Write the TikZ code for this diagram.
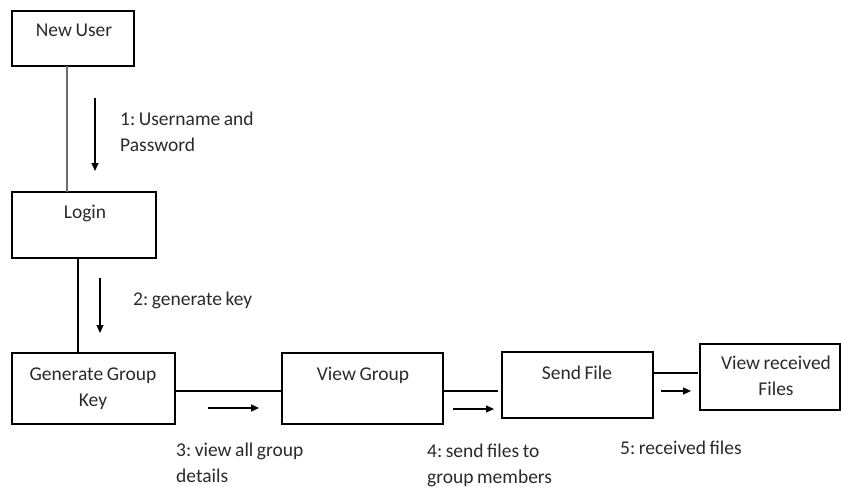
\documentclass[tikz,border=0pt]{standalone}
\usepackage{fontspec}
\setmainfont[WordSpace=0.8]{Carlito}
\frenchspacing
\usetikzlibrary{arrows.meta}
\definecolor{txt}{HTML}{2A2A2A}
\tikzset{
  box/.style={draw=black, line width=1.4pt, inner sep=0pt},
  lbl/.style={inner sep=0pt, text=txt, font=\fontsize{19.5}{25.5}\selectfont, align=left},
  btxt/.style={inner sep=0pt, text=txt, font=\fontsize{19.5}{25.5}\selectfont, align=center},
  conn/.style={draw=black, line width=1.3pt},
  msg/.style={draw=black, line width=1.1pt, -{Triangle[length=8pt,width=7pt]}},
}
\begin{document}
\begin{tikzpicture}[x=1pt,y=-1pt]
\useasboundingbox (0,0) rectangle (841,487);
% boxes
\node[box, minimum width=122pt, minimum height=55pt] (nu) at (73,38.5) {};
\node[box, minimum width=144pt, minimum height=66pt] (login) at (84,225) {};
\node[box, minimum width=163pt, minimum height=71pt] (ggk) at (93.5,388.5) {};
\node[box, minimum width=161pt, minimum height=71pt] (vg) at (362.5,388.5) {};
\node[box, minimum width=151pt, minimum height=66pt] (sf) at (577.5,385) {};
\node[box, minimum width=140pt, minimum height=66pt] (vrf) at (770,377) {};
% box texts
\node[btxt, anchor=base] (tnu) at (74,37) {New User};
\node[btxt, anchor=base] (tlogin) at (85,218) {Login};
\node[btxt, anchor=base] (tggk) at (93,406) {Generate Group\\Key};
\node[btxt, anchor=base] (tvg) at (363,380) {View Group};
\node[btxt, anchor=base] (tsf) at (577,379) {Send File};
\node[btxt, anchor=base] (tvrf) at (776,395) {View received\\Files};
% connectors
\coordinate (c1a) at (67,66); \coordinate (c1b) at (67,192);
\draw[conn, draw=gray!85!black] (c1a) -- (c1b);
\coordinate (c2a) at (78,258); \coordinate (c2b) at (78,353);
\draw[conn] (c2a) -- (c2b);
\coordinate (c3a) at (175,391); \coordinate (c3b) at (282,391);
\draw[conn] (c3a) -- (c3b);
\coordinate (c4a) at (443,391); \coordinate (c4b) at (498,391);
\draw[conn] (c4a) -- (c4b);
\coordinate (c5a) at (652,373); \coordinate (c5b) at (698,373);
\draw[conn] (c5a) -- (c5b);
% message arrows
\coordinate (m1a) at (95,98); \coordinate (m1b) at (95,171);
\draw[msg] (m1a) -- (m1b);
\coordinate (m2a) at (100,278); \coordinate (m2b) at (100,333);
\draw[msg] (m2a) -- (m2b);
\coordinate (m3a) at (208,408); \coordinate (m3b) at (259,408);
\draw[msg] (m3a) -- (m3b);
\coordinate (m4a) at (453,409); \coordinate (m4b) at (494,409);
\draw[msg] (m4a) -- (m4b);
\coordinate (m5a) at (661,391); \coordinate (m5b) at (691,391);
\draw[msg] (m5a) -- (m5b);
% labels
\node[lbl, anchor=base west] (l1) at (120,151) {1: Username and\\Password};
\node[lbl, anchor=base west] (l2) at (133,305) {2: generate key};
\node[lbl, anchor=base west] (l3) at (176,482) {3: view all group\\details};
\node[lbl, anchor=base west] (l4) at (427,483) {4: send files to\\group members};
\node[lbl, anchor=base west] (l5) at (620,454) {5: received files};
\end{tikzpicture}
\end{document}
